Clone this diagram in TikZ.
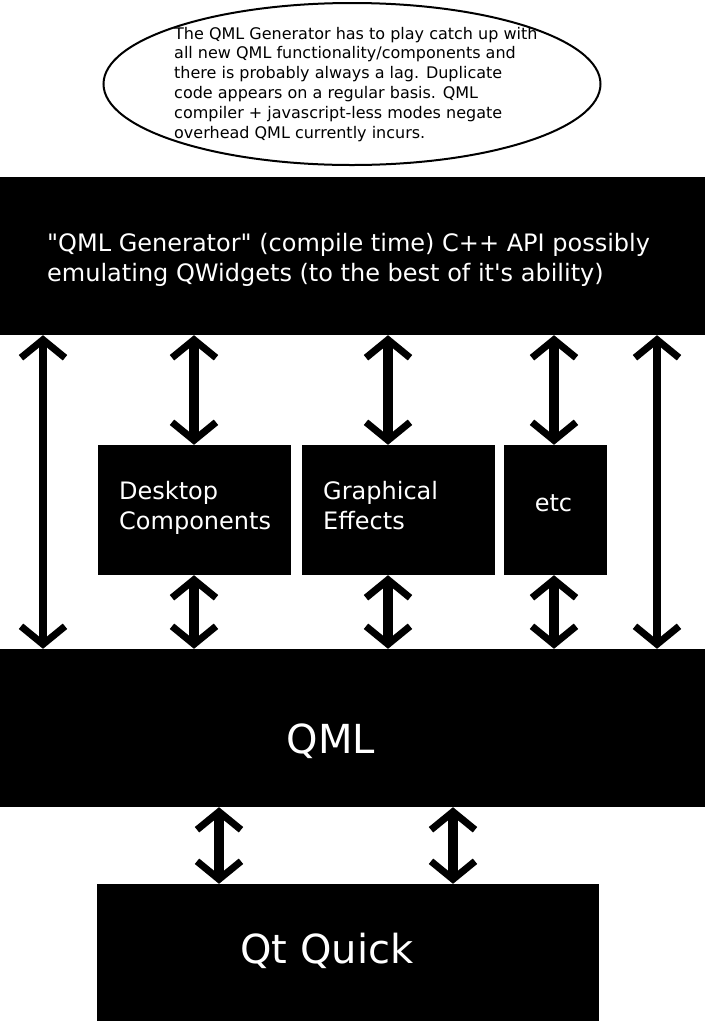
\documentclass[tikz,border=0pt]{standalone}
\usepackage{fontspec}
\setmainfont{DejaVu Sans}
\usetikzlibrary{shapes.geometric,arrows.meta}

\tikzset{
  barb/.tip={Straight Barb[length=18pt,width=44pt,line width=7pt]},
  blk/.style={fill=black, draw=none, inner sep=0pt},
  wtext/.style={text=white, inner sep=0pt, align=left},
  small/.style={font=\fontsize{16}{19.8}\selectfont},
  mid/.style={font=\fontsize{24}{29.5}\selectfont},
  big/.style={font=\fontsize{40}{48}\selectfont},
  link/.style={barb-barb, line width=10.5pt},
  longlink/.style={barb-barb, line width=8pt},
}

\begin{document}
\begin{tikzpicture}[x=1pt,y=-1pt]
  \useasboundingbox (0,0) rectangle (705,1021);

  % the note on top
  \node[ellipse, draw, line width=2pt, minimum width=497pt, minimum height=162pt, inner sep=0pt] (note) at (352,84) {};
  \node[small, inner sep=0pt, align=left, anchor=base west] (notetxt) at (174,138)
    {The QML Generator has to play catch up with\\all new QML functionality/components and\\there is probably always a lag. Duplicate\\code appears on a regular basis. QML\\compiler + javascript-less modes negate\\overhead QML currently incurs.};

  % boxes
  \node[blk, minimum width=705pt, minimum height=158pt] (gen) at (352.5,256) {};
  \node[wtext, mid, anchor=base west] (gentxt) at (47,281)
    {\textquotedbl QML Generator\textquotedbl{} (compile time) C++ API possibly\\emulating QWidgets (to the best of it\textquotesingle s ability)};

  \node[blk, minimum width=193pt, minimum height=130pt] (dc) at (194.5,510) {};
  \node[wtext, mid, anchor=base west] (dctxt) at (119,529) {Desktop\\Components};
  \node[blk, minimum width=193pt, minimum height=130pt] (ge) at (398.5,510) {};
  \node[wtext, mid, anchor=base west] (getxt) at (323,529) {Graphical\\Effects};
  \node[blk, minimum width=103pt, minimum height=130pt] (etc) at (555.5,510) {};
  \node[wtext, mid, anchor=base] (etctxt) at (553.5,511) {etc};

  \node[blk, minimum width=705pt, minimum height=158pt] (qml) at (352.5,728) {};
  \node[wtext, big, anchor=base] (qmltxt) at (331,753) {QML};

  \node[blk, minimum width=502pt, minimum height=137pt] (qq) at (348,952.5) {};
  \node[wtext, big, anchor=base] (qqtxt) at (327,963) {Qt Quick};

  % arrow columns
  \coordinate (c1) at (43,0);
  \coordinate (c2) at (194,0);
  \coordinate (c3) at (388,0);
  \coordinate (c4) at (554,0);
  \coordinate (c5) at (657,0);
  \coordinate (d1) at (219,0);
  \coordinate (d2) at (453,0);

  \draw[longlink] (gen.south -| c1) -- (qml.north -| c1);
  \draw[longlink] (gen.south -| c5) -- (qml.north -| c5);
  \foreach \col/\bx in {c2/dc, c3/ge, c4/etc}{
    \draw[link] (gen.south -| \col) -- (\bx.north -| \col);
    \draw[link] (\bx.south -| \col) -- (qml.north -| \col);
  }
  \draw[link] (qml.south -| d1) -- (qq.north -| d1);
  \draw[link] (qml.south -| d2) -- (qq.north -| d2);
\end{tikzpicture}
\end{document}
